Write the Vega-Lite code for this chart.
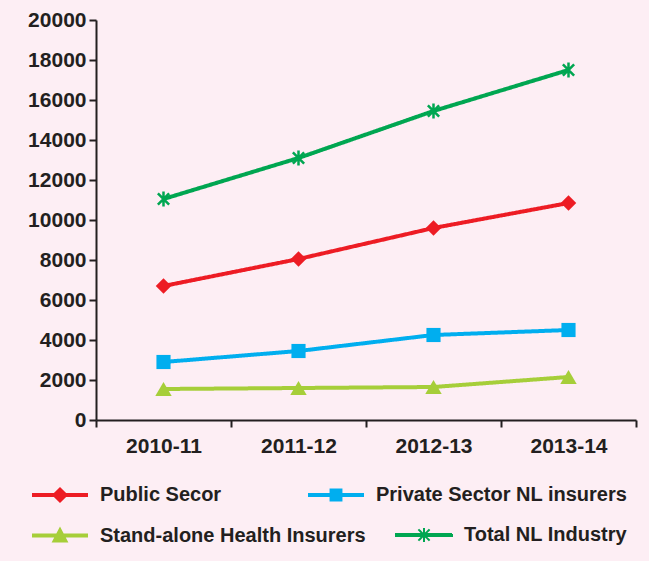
{
  "$schema": "https://vega.github.io/schema/vega-lite/v6.json",
  "width": 540,
  "height": 400,
  "autosize": {"type": "none"},
  "padding": {"left": 96, "top": 20, "right": 13, "bottom": 141},
  "background": "#fdeef4",
  "config": {
    "view": {"stroke": null},
    "font": "Liberation Sans",
    "axis": {"labelFont": "Liberation Sans", "labelFontWeight": "bold", "labelFontSize": 21, "labelColor": "#231f20", "domainColor": "#231f20", "tickColor": "#231f20", "domainWidth": 2, "tickWidth": 2, "tickSize": 7, "grid": false, "title": null},
    "legend": {"title": null, "orient": "none", "direction": "horizontal", "columns": 2, "symbolSize": 3136, "labelOffset": 12, "labelLimit": 400, "labelFont": "Liberation Sans", "labelFontWeight": "bold", "labelFontSize": 20, "labelColor": "#231f20"}
  },
  "data": {
    "values": [
      {"year": "2010-11", "series": "Public Secor", "value": 6700},
      {"year": "2011-12", "series": "Public Secor", "value": 8050},
      {"year": "2012-13", "series": "Public Secor", "value": 9600},
      {"year": "2013-14", "series": "Public Secor", "value": 10850},
      {"year": "2010-11", "series": "Private Sector NL insurers", "value": 2900},
      {"year": "2011-12", "series": "Private Sector NL insurers", "value": 3450},
      {"year": "2012-13", "series": "Private Sector NL insurers", "value": 4250},
      {"year": "2013-14", "series": "Private Sector NL insurers", "value": 4500},
      {"year": "2010-11", "series": "Stand-alone Health Insurers", "value": 1550},
      {"year": "2011-12", "series": "Stand-alone Health Insurers", "value": 1600},
      {"year": "2012-13", "series": "Stand-alone Health Insurers", "value": 1650},
      {"year": "2013-14", "series": "Stand-alone Health Insurers", "value": 2150},
      {"year": "2010-11", "series": "Total NL Industry", "value": 11050},
      {"year": "2011-12", "series": "Total NL Industry", "value": 13100},
      {"year": "2012-13", "series": "Total NL Industry", "value": 15450},
      {"year": "2013-14", "series": "Total NL Industry", "value": 17500}
    ]
  },
  "encoding": {
    "x": {"field": "year", "type": "nominal", "scale": {"type": "band", "paddingInner": 0, "paddingOuter": 0},
      "axis": {"labelAngle": 0, "tickBand": "extent", "labelPadding": 8}},
    "y": {"field": "value", "type": "quantitative", "scale": {"domain": [0, 20000], "nice": false},
      "axis": {"values": [0, 2000, 4000, 6000, 8000, 10000, 12000, 14000, 16000, 18000, 20000], "format": "d", "labelPadding": 3}},
    "color": {"field": "series", "type": "nominal",
      "scale": {"domain": ["Public Secor", "Private Sector NL insurers", "Stand-alone Health Insurers", "Total NL Industry"],
        "range": ["#ed1c24", "#00aeef", "#a6ce39", "#00a651"]},
      "legend": {
        "values": ["Public Secor", "Private Sector NL insurers"],
        "legendX": -64, "legendY": 447, "columnPadding": 86,
        "encode": {
          "symbols": {
            "update": {
              "shape": {"signal": "datum.value === 'Public Secor' ? 'M-1,-0.07H1V0.07H-1Z M0,-0.29L0.29,0L0,0.29L-0.29,0Z' : 'M-1,-0.07H1V0.07H-1Z M-0.23,-0.23H0.23V0.23H-0.23Z'"},
              "fill": {"scale": "color", "field": "value"},
              "stroke": {"scale": "color", "field": "value"},
              "strokeWidth": {"value": 0},
              "opacity": {"value": 1},
              "fillOpacity": {"value": 1},
              "strokeOpacity": {"value": 1}
            }
          }
        }
      }
    }
  },
  "layer": [
    {
      "mark": {"type": "line", "strokeWidth": 4},
      "encoding": {
        "strokeDash": {"field": "series", "type": "nominal",
          "scale": {"domain": ["Stand-alone Health Insurers", "Total NL Industry", "Public Secor", "Private Sector NL insurers"],
            "range": [[1, 0], [1, 0], [1, 0], [1, 0]]},
          "legend": {
            "values": ["Stand-alone Health Insurers", "Total NL Industry"],
            "legendX": -64, "legendY": 487, "columnPadding": 26,
            "encode": {
              "symbols": {
                "update": {
                  "shape": {"signal": "datum.value === 'Stand-alone Health Insurers' ? 'M-1,-0.07H1V0.07H-1Z M0,-0.32L0.3,0.25L-0.3,0.25Z' : 'M-1,-0.036H1V0.036H-1Z M-0.2,-0.2L0.2,0.2M-0.2,0.2L0.2,-0.2M0,-0.25V0.25'"},
                  "fill": {"scale": "color", "field": "value"},
                  "stroke": {"scale": "color", "field": "value"},
                  "strokeWidth": {"signal": "(datum.value === 'Total NL Industry' ? 2 : 0)"},
                  "strokeDash": {"value": [1, 0]},
                  "opacity": {"value": 1},
                  "fillOpacity": {"value": 1},
                  "strokeOpacity": {"value": 1}
                }
              }
            }
          }
        }
      }
    },
    {
      "transform": [{"filter": "datum.series === 'Public Secor'"}],
      "mark": {"type": "point", "filled": true, "opacity": 1, "shape": "diamond", "size": 240}
    },
    {
      "transform": [{"filter": "datum.series === 'Private Sector NL insurers'"}],
      "mark": {"type": "point", "filled": true, "opacity": 1, "shape": "square", "size": 200}
    },
    {
      "transform": [{"filter": "datum.series === 'Stand-alone Health Insurers'"}],
      "mark": {"type": "point", "filled": true, "opacity": 1, "shape": "triangle-up", "size": 270}
    },
    {
      "transform": [{"filter": "datum.series === 'Total NL Industry'"}],
      "mark": {"type": "point", "filled": false, "opacity": 1, "strokeWidth": 2.5, "shape": "M-0.75,-0.75L0.75,0.75M-0.75,0.75L0.75,-0.75M0,-1V1", "size": 225}
    }
  ]
}
